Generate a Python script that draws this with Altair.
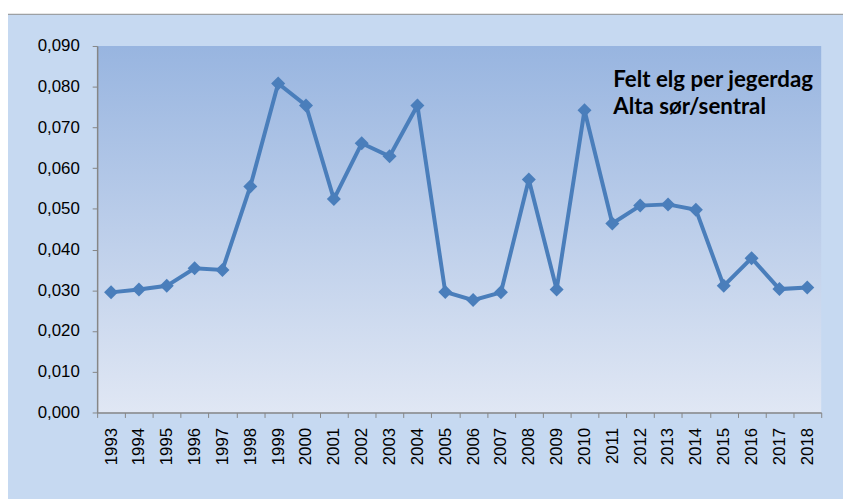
import altair as alt
import pandas as pd

years = [str(y) for y in range(1993, 2019)]
values = [0.0295, 0.0302, 0.0311, 0.0354, 0.0350, 0.0555, 0.0808, 0.0754,
          0.0524, 0.0661, 0.0629, 0.0754, 0.0296, 0.0276, 0.0295, 0.0572,
          0.0302, 0.0742, 0.0464, 0.0508, 0.0511, 0.0498, 0.0311, 0.0379,
          0.0303, 0.0307]
title_lines = ["Felt elg per jegerdag", "Alta sør/sentral"]

df = pd.DataFrame({"year": years, "value": values})
one = pd.DataFrame({"a": [0]})

W, H = 731, 370
LINE = "#4a7ebb"
AXIS = "#868686"

outer = alt.Chart(one).mark_rect(fill="#c6d9f1", stroke="#8c8c8c", strokeWidth=1).encode(
    x=alt.value(-91), x2=alt.value(780), y=alt.value(-32), y2=alt.value(500)
)

plotbg = alt.Chart(one).mark_rect(
    color=alt.Gradient(
        gradient="linear", x1=0, y1=0, x2=0, y2=1,
        stops=[alt.GradientStop(offset=0, color="#98b5e0"),
               alt.GradientStop(offset=1, color="#e0e7f4")],
    )
).encode(x=alt.value(0), x2=alt.value(W), y=alt.value(0), y2=alt.value(H))

xenc = alt.X(
    "year:O", sort=years, title=None,
    scale=alt.Scale(paddingInner=0, paddingOuter=0),
    axis=alt.Axis(labelAngle=-90, labelAlign="right", labelBaseline="middle",
                  labelFont="Liberation Sans", labelFontSize=17, labelColor="#000000",
                  labelPadding=10, tickBand="extent", tickSize=5, tickColor=AXIS,
                  domainColor=AXIS, domainWidth=1.5, grid=False, zindex=1),
)
yenc = alt.Y(
    "value:Q", title=None,
    scale=alt.Scale(domain=[0, 0.09], nice=False),
    axis=alt.Axis(values=[i / 100 for i in range(10)],
                  labelExpr="replace(format(datum.value, '.3f'), '.', ',')",
                  labelFont="Liberation Sans", labelFontSize=17, labelColor="#000000",
                  labelPadding=13, tickSize=5, tickColor=AXIS, domainColor=AXIS,
                  domainWidth=1.5, grid=False, zindex=1),
)

line = alt.Chart(df).mark_line(color=LINE, strokeWidth=4).encode(x=xenc, y=yenc)
pts = alt.Chart(df).mark_point(shape="diamond", filled=True, size=200, color=LINE, opacity=1).encode(
    x=alt.X("year:O", sort=years), y="value:Q"
)

label = alt.Chart(one).mark_text(
    text=title_lines, align="left", baseline="alphabetic", font="Lato",
    fontWeight="bold", fontSize=22.5, lineHeight=28, color="#000000"
).encode(x=alt.value(521), y=alt.value(41))

chart = alt.layer(outer, plotbg, line, pts, label).properties(
    width=W, height=H,
    autosize=alt.AutoSizeParams(type="none"),
    padding={"left": 90, "top": 36, "right": 22, "bottom": 85},
    background="#ffffff",
).configure_view(stroke=None)

chart.save("out.html", embed_options={"renderer": "svg", "actions": False})
